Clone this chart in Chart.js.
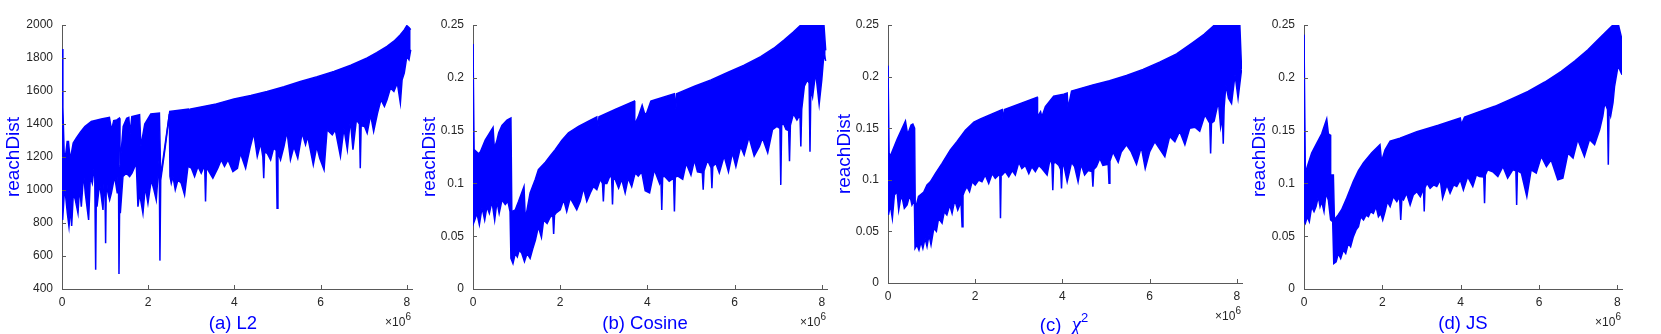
<!DOCTYPE html>
<html>
<head>
<meta charset="utf-8">
<script src="https://cdn.jsdelivr.net/npm/chart.js"></script>
<style>
  body { margin: 0; background: #fff; }
  #wrap { position: relative; width: 1661px; height: 334px; overflow: hidden; font-family: "Liberation Sans", Arial, sans-serif; }
  canvas { position: absolute; top: 0; }
  .cap { position: absolute; top: 314px; color: #0000ff; font-size: 18.5px; line-height: 1; white-space: nowrap; transform: translateX(-50%); }
  .cap i { font-family: "Liberation Serif", serif; font-size: 21px; }
  .cap sup { font-size: 13px; vertical-align: 9px; line-height: 0; }
  .exp { position: absolute; top: 316px; color: #262626; font-size: 12px; line-height: 1; white-space: nowrap; transform: translateX(-100%); }
  .exp sup { font-size: 10px; vertical-align: 6px; line-height: 0; }
</style>
</head>
<body>
<div id="wrap">
  <canvas id="c-l2" width="420" height="334" style="left:0px"></canvas>
  <canvas id="c-cos" width="415" height="334" style="left:420px"></canvas>
  <canvas id="c-chi" width="415" height="334" style="left:835px"></canvas>
  <canvas id="c-js" width="411" height="334" style="left:1250px"></canvas>

  <div class="cap" style="left:233px">(a) L2</div>
  <div class="cap" style="left:645px">(b) Cosine</div>
  <div class="cap" style="left:1064px">(c)&nbsp; <i>χ</i><sup>2</sup></div>
  <div class="cap" style="left:1463px">(d) JS</div>

  <div class="exp" style="left:411px">×10<sup>6</sup></div>
  <div class="exp" style="left:826px">×10<sup>6</sup></div>
  <div class="exp" style="left:1241px;top:310px">×10<sup>6</sup></div>
  <div class="exp" style="left:1621px">×10<sup>6</sup></div>
</div>
<script>
// x values are in units of 1e6 (see the ×10^6 labels)
const xTicks = [0, 2, 4, 6, 8];
const l2Ticks = [400, 600, 800, 1000, 1200, 1400, 1600, 1800, 2000];
const distTicks = [0, 0.05, 0.1, 0.15, 0.2, 0.25];
const distTickLabels = ['0', '0.05', '0.1', '0.15', '0.2', '0.25'];

// (a) L2: top edge and bottom edge of the reachDist band
const l2Upper = [[0,1854],[0.02,1500],[0.05,1225],[0.08,1203],[0.12,1294],[0.15,1294],[0.19,1183],[0.26,1284],[0.33,1314],[0.43,1352],[0.53,1385],[0.68,1415],[0.91,1430],[1.10,1440],[1.15,1362],[1.20,1420],[1.27,1425],[1.33,1435],[1.345,1142],[1.42,1385],[1.50,1435],[1.55,1440],[1.58,1340],[1.62,1445],[1.80,1456],[1.83,1264],[1.92,1400],[2.06,1461],[2.26,1466],[2.29,1082],[2.40,1290],[2.50,1476],[2.93,1490],[2.95,1465],[2.97,1490],[3.58,1522],[3.99,1551],[4.38,1573],[4.76,1597],[5.15,1626],[5.53,1658],[5.92,1687],[6.31,1719],[6.70,1756],[7.08,1800],[7.30,1832],[7.54,1870],[7.70,1902],[7.85,1941],[7.94,1970],[8.00,1996],[8.05,1985],[8.09,1972]];
const l2Lower = [[0,1102],[0.015,819],[0.062,1021],[0.124,859],[0.162,778],[0.2,899],[0.224,782],[0.263,980],[0.309,940],[0.371,859],[0.41,1021],[0.448,899],[0.502,1102],[0.541,980],[0.618,819],[0.657,1082],[0.703,1041],[0.757,1163],[0.781,516],[0.80,1100],[0.812,899],[0.873,1041],[0.951,879],[0.99,1150],[1.012,677],[1.03,1100],[1.051,1001],[1.105,940],[1.144,980],[1.221,1082],[1.283,980],[1.31,1150],[1.322,491],[1.34,1000],[1.353,859],[1.414,1082],[1.492,1102],[1.569,1082],[1.623,1102],[1.723,1163],[1.762,899],[1.80,980],[1.878,859],[1.932,1021],[1.994,920],[2.071,1062],[2.133,1001],[2.187,940],[2.226,1082],[2.255,1200],[2.272,572],[2.29,1060],[2.40,1270],[2.49,1460],[2.505,1082],[2.535,1041],[2.574,1082],[2.628,1001],[2.69,1062],[2.767,1041],[2.844,970],[2.922,1143],[3.0,1133],[3.076,1082],[3.154,1143],[3.23,1102],[3.31,1150],[3.33,930],[3.35,1140],[3.386,1122],[3.5,1072],[3.617,1133],[3.695,1183],[3.77,1143],[3.85,1183],[3.965,1112],[4.07,1132],[4.14,1223],[4.26,1132],[4.37,1264],[4.45,1345],[4.53,1203],[4.61,1284],[4.66,1200],[4.68,1072],[4.70,1230],[4.76,1223],[4.84,1183],[4.91,1254],[4.97,1240],[4.99,889],[5.01,1230],[5.07,1183],[5.15,1264],[5.22,1355],[5.30,1183],[5.38,1264],[5.47,1193],[5.57,1345],[5.65,1274],[5.70,1325],[5.83,1153],[5.91,1264],[5.98,1193],[6.08,1122],[6.15,1365],[6.27,1335],[6.34,1365],[6.46,1203],[6.54,1375],[6.62,1244],[6.69,1426],[6.75,1244],[6.83,1426],[6.90,1400],[6.92,1132],[6.94,1390],[7.02,1385],[7.08,1345],[7.16,1456],[7.23,1355],[7.32,1466],[7.40,1547],[7.48,1507],[7.54,1547],[7.62,1618],[7.70,1598],[7.78,1648],[7.85,1527],[7.89,1668],[7.94,1709],[8.0,1810],[8.05,1790],[8.09,1850]];

// (b) Cosine
const cosUpper = [[0,0.232],[0.015,0.232],[0.025,0.132],[0.13,0.128],[0.17,0.130],[0.28,0.141],[0.46,0.153],[0.49,0.133],[0.55,0.141],[0.59,0.148],[0.665,0.155],[0.78,0.160],[0.87,0.162],[0.89,0.0733],[0.97,0.075],[1.046,0.083],[1.17,0.097],[1.20,0.066],[1.31,0.091],[1.43,0.104],[1.50,0.113],[1.66,0.120],[1.77,0.126],[1.885,0.132],[2.04,0.141],[2.19,0.148],[2.42,0.154],[2.65,0.159],[2.84,0.163],[2.86,0.151],[2.89,0.163],[3.26,0.170],[3.70,0.178],[3.71,0.156],[3.79,0.163],[3.88,0.174],[3.93,0.167],[3.97,0.165],[4.08,0.178],[4.16,0.179],[4.62,0.185],[4.655,0.170],[4.67,0.185],[5.08,0.192],[5.46,0.198],[5.84,0.205],[6.22,0.212],[6.60,0.220],[6.90,0.228],[7.14,0.236],[7.34,0.243],[7.52,0.25],[8.05,0.25],[8.09,0.226]];
const cosLower = [[0,0.0844],[0.01,0.062],[0.04,0.0653],[0.09,0.0717],[0.146,0.061],[0.207,0.077],[0.268,0.0653],[0.32,0.078],[0.375,0.0717],[0.435,0.083],[0.497,0.0653],[0.55,0.083],[0.60,0.0717],[0.665,0.0844],[0.74,0.080],[0.80,0.083],[0.85,0.0733],[0.87,0.029],[0.917,0.0242],[0.97,0.0337],[1.016,0.0305],[1.062,0.0368],[1.12,0.0337],[1.18,0.026],[1.24,0.0337],[1.31,0.029],[1.37,0.038],[1.43,0.046],[1.50,0.059],[1.57,0.049],[1.62,0.0653],[1.70,0.062],[1.77,0.068],[1.83,0.07],[1.85,0.052],[1.87,0.07],[1.90,0.0717],[2.0,0.075],[2.08,0.0844],[2.15,0.0733],[2.23,0.086],[2.30,0.081],[2.38,0.075],[2.46,0.083],[2.535,0.0955],[2.61,0.083],[2.69,0.091],[2.76,0.097],[2.84,0.094],[2.92,0.104],[2.97,0.1],[2.99,0.083],[3.01,0.1],[3.07,0.100],[3.15,0.108],[3.18,0.105],[3.2,0.080],[3.22,0.104],[3.26,0.104],[3.34,0.0955],[3.41,0.104],[3.49,0.091],[3.56,0.105],[3.64,0.097],[3.72,0.110],[3.79,0.107],[3.87,0.111],[3.95,0.093],[4.05,0.091],[4.16,0.113],[4.28,0.100],[4.31,0.105],[4.33,0.0749],[4.35,0.106],[4.39,0.107],[4.50,0.102],[4.60,0.105],[4.62,0.0733],[4.64,0.106],[4.70,0.107],[4.81,0.104],[4.89,0.119],[5.0,0.108],[5.08,0.122],[5.15,0.111],[5.26,0.11],[5.28,0.094],[5.30,0.112],[5.38,0.122],[5.46,0.115],[5.48,0.0955],[5.50,0.116],[5.57,0.119],[5.65,0.110],[5.76,0.126],[5.86,0.111],[5.95,0.129],[6.03,0.116],[6.14,0.135],[6.22,0.127],[6.33,0.144],[6.45,0.126],[6.57,0.135],[6.64,0.143],[6.76,0.129],[6.87,0.151],[6.97,0.154],[7.04,0.152],[7.06,0.0986],[7.08,0.155],[7.12,0.157],[7.18,0.151],[7.24,0.15],[7.26,0.121],[7.28,0.155],[7.35,0.166],[7.43,0.160],[7.50,0.165],[7.52,0.135],[7.54,0.17],[7.60,0.192],[7.67,0.198],[7.71,0.195],[7.73,0.130],[7.75,0.19],[7.79,0.182],[7.86,0.205],[7.94,0.175],[8.0,0.198],[8.05,0.223],[8.09,0.216]];

// (c) chi^2
const chiUpper = [[0,0.2106],[0.015,0.2106],[0.025,0.126],[0.054,0.123],[0.207,0.139],[0.40,0.157],[0.45,0.144],[0.53,0.153],[0.57,0.154],[0.61,0.150],[0.625,0.071],[0.70,0.084],[0.82,0.088],[0.895,0.095],[0.97,0.098],[1.086,0.106],[1.24,0.116],[1.43,0.129],[1.58,0.137],[1.775,0.148],[1.97,0.156],[2.12,0.159],[2.62,0.168],[2.64,0.158],[2.67,0.168],[3.42,0.180],[3.43,0.161],[3.5,0.166],[3.53,0.161],[3.61,0.171],[3.80,0.181],[4.03,0.183],[4.11,0.184],[4.13,0.169],[4.21,0.186],[4.70,0.192],[5.08,0.196],[5.47,0.201],[5.85,0.207],[6.23,0.214],[6.62,0.222],[6.99,0.233],[7.25,0.241],[7.49,0.25],[8.07,0.25],[8.11,0.207]];
const chiLower = [[0,0.0885],[0.01,0.066],[0.054,0.0755],[0.1,0.0627],[0.146,0.0853],[0.207,0.0885],[0.245,0.0707],[0.283,0.0804],[0.32,0.0837],[0.375,0.0724],[0.437,0.0756],[0.50,0.0853],[0.55,0.0756],[0.605,0.0804],[0.62,0.0336],[0.666,0.0369],[0.71,0.032],[0.757,0.040],[0.80,0.0336],[0.85,0.0433],[0.895,0.0353],[0.94,0.0466],[0.987,0.0369],[1.05,0.053],[1.11,0.050],[1.16,0.0627],[1.24,0.058],[1.29,0.069],[1.35,0.066],[1.415,0.0756],[1.47,0.0675],[1.53,0.0804],[1.60,0.0707],[1.675,0.0788],[1.70,0.0546],[1.72,0.085],[1.75,0.0885],[1.81,0.0934],[1.87,0.0885],[1.93,0.0982],[2.0,0.095],[2.08,0.0998],[2.155,0.0982],[2.23,0.1047],[2.31,0.0966],[2.39,0.106],[2.46,0.1014],[2.54,0.1047],[2.565,0.104],[2.58,0.0627],[2.595,0.104],[2.62,0.1047],[2.69,0.108],[2.77,0.103],[2.85,0.109],[2.92,0.1047],[3.0,0.117],[3.07,0.111],[3.15,0.114],[3.23,0.106],[3.30,0.1127],[3.38,0.108],[3.46,0.114],[3.53,0.111],[3.65,0.1047],[3.72,0.1208],[3.76,0.115],[3.78,0.090],[3.80,0.116],[3.84,0.117],[3.92,0.114],[3.96,0.11],[3.98,0.0917],[4.00,0.112],[4.02,0.117],[4.11,0.0982],[4.21,0.117],[4.28,0.1127],[4.36,0.0982],[4.43,0.115],[4.51,0.1047],[4.59,0.109],[4.68,0.108],[4.70,0.0934],[4.72,0.11],[4.78,0.1127],[4.86,0.1208],[4.93,0.114],[5.05,0.115],[5.07,0.0966],[5.09,0.118],[5.16,0.127],[5.28,0.117],[5.35,0.127],[5.47,0.134],[5.58,0.127],[5.70,0.115],[5.81,0.132],[5.90,0.111],[6.0,0.127],[6.12,0.137],[6.23,0.130],[6.35,0.1224],[6.46,0.142],[6.58,0.137],[6.69,0.147],[6.81,0.134],[6.92,0.150],[7.04,0.151],[7.15,0.147],[7.27,0.163],[7.38,0.155],[7.40,0.1256],[7.42,0.155],[7.48,0.157],[7.58,0.176],[7.63,0.151],[7.67,0.16],[7.69,0.135],[7.71,0.17],[7.75,0.192],[7.81,0.179],[7.88,0.174],[7.96,0.202],[8.03,0.179],[8.11,0.207]];

// (d) JS
const jsUpper = [[0,0.2408],[0.015,0.2408],[0.034,0.1097],[0.085,0.116],[0.196,0.1287],[0.324,0.138],[0.452,0.147],[0.58,0.161],[0.622,0.147],[0.665,0.146],[0.68,0.108],[0.75,0.108],[0.776,0.0656],[0.877,0.0704],[0.96,0.0751],[1.09,0.0862],[1.26,0.102],[1.39,0.112],[1.52,0.1197],[1.73,0.129],[1.94,0.1366],[1.98,0.121],[2.07,0.1318],[2.2,0.140],[2.45,0.1429],[2.88,0.149],[3.43,0.155],[3.99,0.162],[4.02,0.156],[4.10,0.1627],[4.48,0.168],[4.87,0.173],[5.30,0.180],[5.72,0.187],[6.15,0.196],[6.57,0.206],[6.92,0.216],[7.25,0.2265],[7.48,0.235],[7.68,0.2424],[7.89,0.25],[8.03,0.25],[8.12,0.236]];
const jsLower = [[0,0.0654],[0.034,0.0622],[0.085,0.0685],[0.136,0.0638],[0.196,0.078],[0.256,0.0733],[0.307,0.078],[0.366,0.0875],[0.41,0.078],[0.452,0.0828],[0.511,0.0733],[0.562,0.0907],[0.622,0.0843],[0.68,0.0654],[0.733,0.0638],[0.76,0.0242],[0.82,0.0258],[0.877,0.0337],[0.937,0.029],[1.005,0.0369],[1.065,0.0337],[1.13,0.0432],[1.19,0.040],[1.26,0.0496],[1.33,0.056],[1.39,0.059],[1.45,0.0685],[1.52,0.0654],[1.585,0.070],[1.645,0.0685],[1.70,0.0733],[1.77,0.0717],[1.84,0.078],[1.90,0.0685],[1.96,0.0717],[2.01,0.0654],[2.07,0.0733],[2.13,0.0828],[2.2,0.078],[2.28,0.0875],[2.37,0.0828],[2.44,0.0875],[2.47,0.0654],[2.50,0.086],[2.54,0.0843],[2.62,0.0907],[2.71,0.0796],[2.79,0.089],[2.88,0.0922],[2.97,0.0875],[3.05,0.095],[3.07,0.0733],[3.09,0.096],[3.14,0.1002],[3.22,0.0954],[3.31,0.0986],[3.39,0.097],[3.48,0.1034],[3.54,0.0859],[3.65,0.0986],[3.73,0.0907],[3.82,0.0986],[3.90,0.097],[3.99,0.1034],[4.07,0.0938],[4.18,0.1065],[4.31,0.097],[4.40,0.108],[4.48,0.1065],[4.59,0.106],[4.61,0.0812],[4.63,0.108],[4.69,0.1129],[4.82,0.111],[4.95,0.1065],[5.08,0.116],[5.20,0.105],[5.33,0.1129],[5.41,0.112],[5.43,0.0796],[5.45,0.112],[5.55,0.1097],[5.69,0.0875],[5.80,0.1129],[5.93,0.1097],[6.06,0.1256],[6.19,0.116],[6.31,0.1224],[6.48,0.1034],[6.61,0.105],[6.74,0.1288],[6.87,0.124],[6.99,0.1415],[7.16,0.1256],[7.29,0.1415],[7.42,0.1367],[7.55,0.151],[7.63,0.1637],[7.68,0.1764],[7.75,0.17],[7.77,0.1176],[7.79,0.17],[7.83,0.1637],[7.89,0.1764],[7.93,0.192],[8.02,0.2113],[8.12,0.203]];

const blue = '#0000ff';
const axisColor = '#595959';
const textColor = '#262626';

Chart.defaults.font.family = '"Liberation Sans", Arial, sans-serif';

// matlab style ticks pointing into the plot
const innerTicks = {
  id: 'innerTicks',
  afterDraw(chart) {
    const { ctx, chartArea, scales } = chart;
    ctx.save();
    ctx.strokeStyle = axisColor;
    ctx.lineWidth = 1;
    ctx.beginPath();
    scales.x.ticks.forEach(t => {
      const px = Math.round(scales.x.getPixelForValue(t.value)) + 0.5;
      ctx.moveTo(px, chartArea.bottom);
      ctx.lineTo(px, chartArea.bottom - 4);
    });
    scales.y.ticks.forEach(t => {
      const py = Math.round(scales.y.getPixelForValue(t.value)) + 0.5;
      ctx.moveTo(chartArea.left, py);
      ctx.lineTo(chartArea.left + 4, py);
    });
    ctx.stroke();
    ctx.restore();
  }
};

function toPoints(pairs) {
  return pairs.map(p => ({ x: p[0], y: p[1] }));
}

function makePanel(id, upper, lower, p) {
  new Chart(document.getElementById(id), {
    type: 'line',
    data: {
      datasets: [
        { data: toPoints(upper), borderColor: blue, borderWidth: 1.5, pointRadius: 0, fill: false, tension: 0 },
        { data: toPoints(lower), borderColor: blue, borderWidth: 1.5, pointRadius: 0, fill: '-1', backgroundColor: blue, tension: 0 }
      ]
    },
    options: {
      responsive: false,
      animation: false,
      events: [],
      layout: { padding: { left: 0, right: p.padRight, top: 25, bottom: 0 } },
      plugins: { legend: { display: false }, tooltip: { enabled: false } },
      scales: {
        x: {
          type: 'linear',
          min: 0,
          max: 8.12,
          afterBuildTicks: s => { s.ticks = xTicks.map(v => ({ value: v })); },
          afterFit: s => { s.height = p.xHeight; },
          grid: { display: true, drawOnChartArea: false, drawTicks: false },
          border: { color: axisColor, width: 1 },
          ticks: { color: textColor, font: { size: 12 }, padding: 6, maxRotation: 0, callback: v => String(v) }
        },
        y: {
          min: p.yMin,
          max: p.yMax,
          afterBuildTicks: s => { s.ticks = p.yTicks.map(v => ({ value: v })); },
          afterFit: s => { s.width = p.yWidth; },
          grid: { display: true, drawOnChartArea: false, drawTicks: false },
          border: { color: axisColor, width: 1 },
          ticks: { color: textColor, font: { size: 12 }, padding: 9, callback: (v, i) => p.yLabels[i] },
          title: { display: true, text: 'reachDist', color: blue, font: { size: 19, lineHeight: 1 }, padding: { top: p.titlePad, bottom: 0 } }
        }
      }
    },
    plugins: [innerTicks]
  });
}

makePanel('c-l2', l2Upper, l2Lower, { yMin: 400, yMax: 2000, yTicks: l2Ticks, yLabels: l2Ticks.map(String), yWidth: 62, padRight: 8, xHeight: 45, titlePad: 4 });
makePanel('c-cos', cosUpper, cosLower, { yMin: 0, yMax: 0.25, yTicks: distTicks, yLabels: distTickLabels, yWidth: 53, padRight: 8, xHeight: 45, titlePad: 0 });
makePanel('c-chi', chiUpper, chiLower, { yMin: 0, yMax: 0.25, yTicks: distTicks, yLabels: distTickLabels, yWidth: 53, padRight: 8, xHeight: 51, titlePad: 0 });
makePanel('c-js', jsUpper, jsLower, { yMin: 0, yMax: 0.25, yTicks: distTicks, yLabels: distTickLabels, yWidth: 54, padRight: 39, xHeight: 45, titlePad: 0 });
</script>
</body>
</html>
